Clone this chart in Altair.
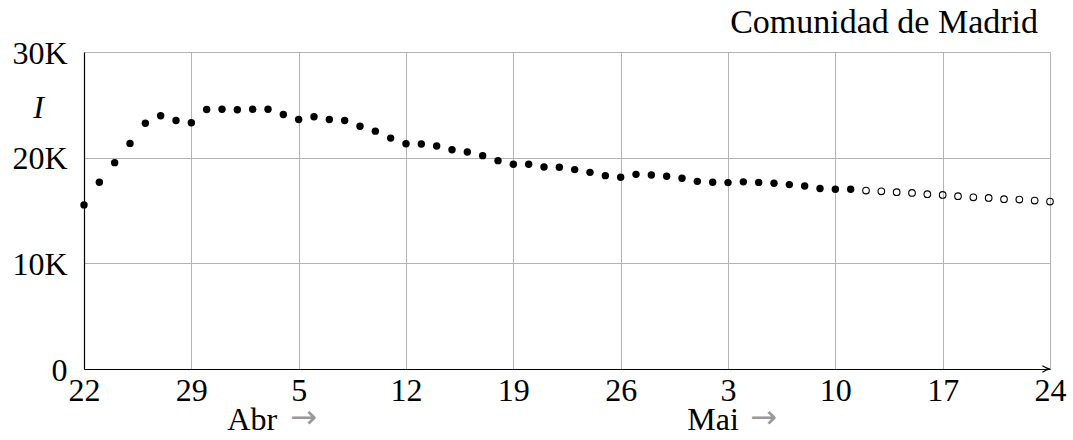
import altair as alt
import pandas as pd

# ---- data (thousands of active infected, Comunidad de Madrid) ----
start_date = "2020-03-22"
observed_I = [15.53, 17.67, 19.53, 21.35, 23.26, 23.96, 23.52, 23.30, 24.56, 24.58,
              24.53, 24.58, 24.58, 24.08, 23.61, 23.87, 23.61, 23.52, 22.98, 22.51,
              21.85, 21.32, 21.30, 21.10, 20.75, 20.53, 20.19, 19.72, 19.37, 19.37,
              19.12, 19.09, 18.87, 18.61, 18.30, 18.14, 18.42, 18.36, 18.24, 18.05,
              17.76, 17.67, 17.64, 17.71, 17.66, 17.58, 17.45, 17.32, 17.08, 17.01,
              17.01]
projected_I = [16.89, 16.82, 16.73, 16.66, 16.54, 16.47, 16.35, 16.25, 16.19, 16.07,
               16.04, 15.94, 15.85]
x_tick_days = [0, 7, 14, 21, 28, 35, 42, 49, 56, 63]
x_tick_labels = ["22", "29", "5", "12", "19", "26", "3", "10", "17", "24"]
y_tick_values = [0, 10000, 20000, 30000]
y_tick_labels = ["0", "10K", "20K", "30K"]
month_labels = ["Abr", "Mai"]
month_days = [10, 40]
title_text = "Comunidad de Madrid"

FONT = "Liberation Serif"
FS = 32
W, H = 966, 317
GRID = "#b3b3b3"

n_obs = len(observed_I)
df_obs = pd.DataFrame({"day": list(range(n_obs)), "I": [v * 1000 for v in observed_I]})
df_proj = pd.DataFrame({"day": list(range(n_obs, n_obs + len(projected_I))),
                        "I": [v * 1000 for v in projected_I]})
df_month = pd.DataFrame({"day": month_days, "label": month_labels})
df_arrow = pd.DataFrame({"day": [x_tick_days[-1]], "I": [0]})

xscale = alt.Scale(domain=[x_tick_days[0], x_tick_days[-1]], nice=False, zero=False)
yscale = alt.Scale(domain=[y_tick_values[0], y_tick_values[-1]], nice=False)

x_expr = "[" + ",".join(f"'{l}'" for l in x_tick_labels) + "][indexof(" + \
    "[" + ",".join(str(d) for d in x_tick_days) + "], datum.value)]"
y_expr = "[" + ",".join(f"'{l}'" for l in y_tick_labels) + "][indexof(" + \
    "[" + ",".join(str(d) for d in y_tick_values) + "], datum.value)]"

x_axis = alt.Axis(values=x_tick_days, labelExpr=x_expr, title=None, grid=True,
                  gridColor=GRID, gridWidth=1, ticks=False, domainColor="black",
                  domainWidth=1.2, labelFont=FONT, labelFontSize=FS, labelColor="black",
                  labelBaseline="alphabetic", labelPadding=31, labelFlush=False,
                  labelOverlap=False)
y_axis = alt.Axis(values=y_tick_values, labelExpr=y_expr, title="I", grid=True,
                  gridColor=GRID, gridWidth=1, ticks=False, domainColor="black",
                  domainWidth=1.2, labelFont=FONT, labelFontSize=FS, labelColor="black",
                  labelBaseline="alphabetic", labelOffset=11, labelPadding=17,
                  labelFlush=False, labelOverlap=False,
                  titleAngle=0, titleX=-46, titleY=55, titleFont=FONT, titleFontSize=FS,
                  titleFontStyle="italic", titleFontWeight="normal", titleColor="black",
                  titleAlign="center", titleBaseline="middle")

obs = alt.Chart(df_obs).mark_circle(size=55, color="black", opacity=1).encode(
    x=alt.X("day:Q", scale=xscale, axis=x_axis),
    y=alt.Y("I:Q", scale=yscale, axis=y_axis),
)
proj = alt.Chart(df_proj).mark_point(size=44, color="black", filled=False,
                                     strokeWidth=1.1, opacity=1).encode(
    x=alt.X("day:Q", scale=xscale),
    y=alt.Y("I:Q", scale=yscale),
)
arrow = alt.Chart(df_arrow).mark_point(
    shape="M-1,-0.42 Q-0.45,-0.05 0,0 Q-0.45,0.05 -1,0.42",
    filled=False, size=230, color="black", strokeWidth=1.2, opacity=1,
).encode(x=alt.X("day:Q", scale=xscale), y=alt.Y("I:Q", scale=yscale))

month_txt = alt.Chart(df_month).mark_text(
    font=FONT, fontSize=FS, align="left", baseline="alphabetic", dx=-10, color="black"
).encode(x=alt.X("day:Q", scale=xscale), y=alt.value(H + 61), text="label:N")
month_arrow = alt.Chart(df_month).mark_text(
    font="DejaVu Sans", fontSize=32, align="left", baseline="alphabetic", dx=53,
    color="#999999"
).encode(x=alt.X("day:Q", scale=xscale), y=alt.value(H + 59), text=alt.value("→"))

title = alt.Chart(pd.DataFrame({"t": [title_text]})).mark_text(
    font=FONT, fontSize=34, align="right", baseline="alphabetic", color="black"
).encode(x=alt.value(W - 12), y=alt.value(-19), text="t:N")

chart = alt.layer(obs, proj, arrow, month_txt, month_arrow, title).properties(
    width=W, height=H, autosize="none",
    padding={"left": 84, "top": 52, "right": 1073 - 84 - W, "bottom": 440 - 52 - H},
).configure_view(stroke=None).configure(background="white")

chart.save("out.html", embed_options={"renderer": "svg", "actions": False})
